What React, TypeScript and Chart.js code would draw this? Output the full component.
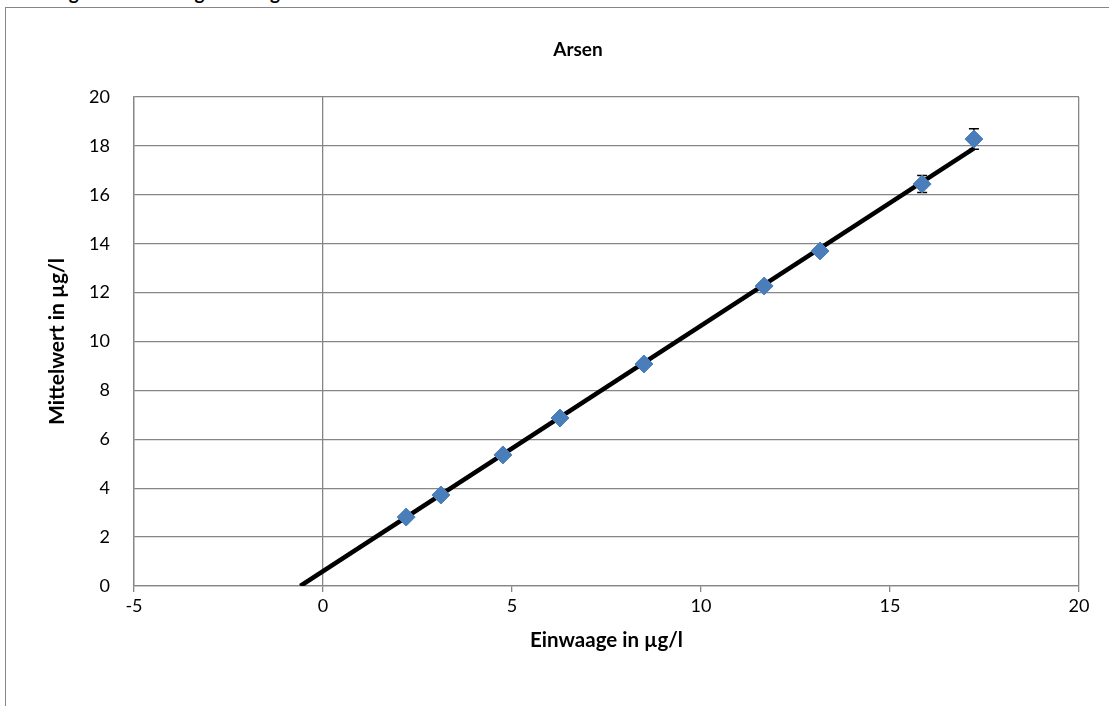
import React, { useEffect, useRef } from "react";
import { Chart, registerables } from "chart.js";

Chart.register(...registerables);

// ---- data ----
const einwaage = [2.2, 3.12, 4.76, 6.27, 8.49, 11.67, 13.15, 15.85, 17.22];
const mittelwert = [2.82, 3.72, 5.36, 6.87, 9.08, 12.27, 13.7, 16.44, 18.28];
const stdabw = [0.05, 0.05, 0.05, 0.05, 0.05, 0.05, 0.05, 0.35, 0.42];
const trendX = [-0.6, 17.22];
const trendY = [0, 17.9];
const xTicks = [-5, 0, 5, 10, 15, 20];
const yTicks = [0, 2, 4, 6, 8, 10, 12, 14, 16, 18, 20];
const chartTitle = "Arsen";
const xTitle = "Einwaage in µg/l";
const yTitle = "Mittelwert in µg/l";
const heading = "Gegenüberstellung Einwaage und Mittelwert";

const FONT = "Lato, 'Open Sans', sans-serif";
const GRID = "#868686";

const errorBarPlugin = {
  id: "errorBars",
  beforeDatasetDraw(chart: any, args: any) {
    if (args.index !== 0) return;
    const { ctx, scales } = chart;
    ctx.save();
    ctx.strokeStyle = "#000";
    ctx.lineWidth = 1.5;
    einwaage.forEach((xv, i) => {
      const x = scales.x.getPixelForValue(xv);
      const y1 = scales.y.getPixelForValue(mittelwert[i] + stdabw[i]);
      const y2 = scales.y.getPixelForValue(mittelwert[i] - stdabw[i]);
      ctx.beginPath();
      ctx.moveTo(x, y1);
      ctx.lineTo(x, y2);
      ctx.moveTo(x - 5, y1);
      ctx.lineTo(x + 5, y1);
      ctx.moveTo(x - 5, y2);
      ctx.lineTo(x + 5, y2);
      ctx.stroke();
    });
    ctx.restore();
  },
};

const titlePlugin = {
  id: "customTitle",
  afterDraw(chart: any) {
    const { ctx } = chart;
    ctx.save();
    ctx.font = `bold 19px ${FONT}`;
    ctx.fillStyle = "#000";
    ctx.textAlign = "center";
    ctx.textBaseline = "middle";
    ctx.fillText(chartTitle, 578, 50);
    ctx.restore();
  },
};

export default function App() {
  const ref = useRef<HTMLCanvasElement>(null);

  useEffect(() => {
    document.body.style.margin = "0";
    const canvas = ref.current;
    if (!canvas) return;
    const chart = new Chart(canvas, {
      type: "scatter",
      data: {
        datasets: [
          {
            type: "scatter",
            label: "Mittelwert",
            data: einwaage.map((x, i) => ({ x, y: mittelwert[i] })),
            pointStyle: "rectRot",
            pointRadius: 9,
            backgroundColor: "#4A7EBB",
            borderColor: "#4A7EBB",
            borderWidth: 1,
            order: 1,
          },
          {
            type: "line",
            label: "Trend",
            data: trendX.map((x, i) => ({ x, y: trendY[i] })),
            borderColor: "#000",
            borderWidth: 4.5,
            pointRadius: 0,
            fill: false,
            order: 2,
          },
        ],
      },
      options: {
        animation: false,
        responsive: false,
        layout: { padding: { top: 97, right: 30, left: 0, bottom: 0 } },
        plugins: {
          legend: { display: false },
          tooltip: { enabled: false },
          title: { display: false },
        },
        scales: {
          x: {
            type: "linear",
            min: -5,
            max: 20,
            afterBuildTicks: (s: any) => {
              s.ticks = xTicks.map((v) => ({ value: v }));
            },
            afterFit: (s: any) => {
              s.height = 120;
            },
            grid: {
              color: (c: any) =>
                c.tick && (c.tick.value === 0 || c.tick.value === 20 || c.tick.value === -5)
                  ? GRID
                  : "rgba(0,0,0,0)",
              tickColor: GRID,
              tickLength: 6,
              lineWidth: 1.3,
            },
            border: { color: GRID, width: 1.3 },
            ticks: {
              color: "#000",
              font: { family: FONT, size: 18 },
              padding: 3,
              maxRotation: 0,
              autoSkip: false,
            },
            title: {
              display: true,
              text: xTitle,
              color: "#000",
              font: { family: FONT, size: 20.5, weight: "bold" },
              padding: { top: 0, bottom: 53 },
            },
          },
          y: {
            type: "linear",
            min: 0,
            max: 20,
            afterBuildTicks: (s: any) => {
              s.ticks = yTicks.map((v) => ({ value: v }));
            },
            afterFit: (s: any) => {
              s.width = 134;
            },
            grid: {
              color: GRID,
              drawTicks: false,
              lineWidth: 1.3,
            },
            border: { color: GRID, width: 1.3 },
            ticks: {
              color: "#000",
              font: { family: FONT, size: 18 },
              padding: 24,
              autoSkip: false,
            },
            title: {
              display: true,
              text: yTitle,
              color: "#000",
              font: { family: FONT, size: 21, weight: "bold" },
              padding: { top: 45, bottom: 0 },
            },
          },
        },
      },
      plugins: [errorBarPlugin, titlePlugin],
    } as any);
    return () => chart.destroy();
  }, []);

  return (
    <div
      style={{
        position: "relative",
        width: 1109,
        height: 706,
        overflow: "hidden",
        background: "#fff",
      }}
    >
      <div
        style={{
          position: "absolute",
          left: 45,
          top: -17,
          fontFamily: FONT,
          fontWeight: "bold",
          fontSize: 19,
          lineHeight: "20px",
          whiteSpace: "nowrap",
          color: "#000",
        }}
      >
        {heading}
      </div>
      <div
        style={{
          position: "absolute",
          left: 5,
          top: 7,
          width: 1200,
          height: 800,
          border: "1px solid #868686",
          boxSizing: "border-box",
        }}
      />
      <canvas
        ref={ref}
        width={1109}
        height={706}
        style={{ position: "absolute", left: 0, top: 0, display: "block" }}
      />
    </div>
  );
}
